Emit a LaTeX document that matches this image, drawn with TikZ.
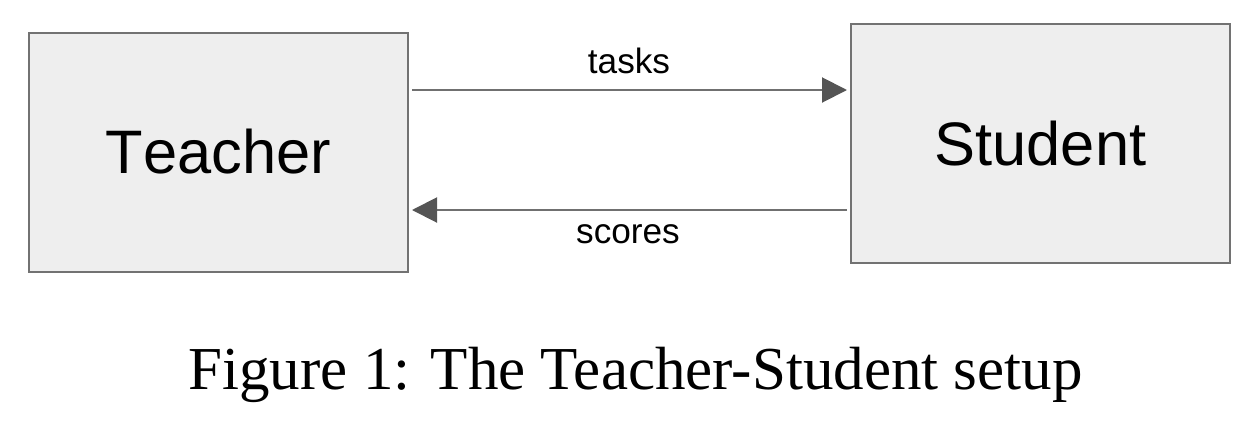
\documentclass[tikz,border=0pt]{standalone}
\usepackage{fontspec}
\setmainfont{Liberation Serif}
\newfontfamily\arialfont[Kerning=Off]{Liberation Sans}
\usepackage{tikz}
\usetikzlibrary{arrows.meta,positioning}
\definecolor{boxfill}{HTML}{EEEEEE}
\definecolor{boxedge}{HTML}{727272}
\definecolor{flowline}{HTML}{707070}
\definecolor{flowhead}{HTML}{555555}

\begin{document}
\begin{tikzpicture}[x=0.5pt,y=-0.5pt,
        rolebox/.style={draw=boxedge, fill=boxfill, line width=1pt, inner sep=0pt,
          minimum width=189.5pt, minimum height=119.5pt,
          font={\arialfont\fontsize{30.7}{36}\selectfont}},
        flow/.style={line width=1pt, flowline,
          -{Triangle[length=12.5pt,width=12.5pt,color=flowhead,fill=flowhead]},
          shorten <=1.5pt, shorten >=1.5pt},
        flowlabel/.style={anchor=base, font={\arialfont\fontsize{17.6}{20}\selectfont}}]
          \useasboundingbox (0,0) rectangle (1260,424);

          %draw the two boxes
          \node[rolebox] (teacher) at (218.5,152) {Teacher};
          \node[rolebox] (student) at (1040.5,143.5) {Student};

          %draw tasks and scores
          \coordinate (taskrow) at (0,90);
          \coordinate (scorerow) at (0,210);
          \draw[flow] (teacher.east |- taskrow) -- (student.west |- taskrow);
          \draw[flow] (student.west |- scorerow) -- (teacher.east |- scorerow);
          \node[flowlabel] (tasks) at (629,73) {tasks};
          \node[flowlabel] (scores) at (628,243) {scores};

          %caption
          \node[anchor=base, font={\fontsize{30.5}{36}\selectfont}] (caption) at (635.5,389)
            {Figure 1: The Teacher-Student setup};
\end{tikzpicture}
\end{document}
